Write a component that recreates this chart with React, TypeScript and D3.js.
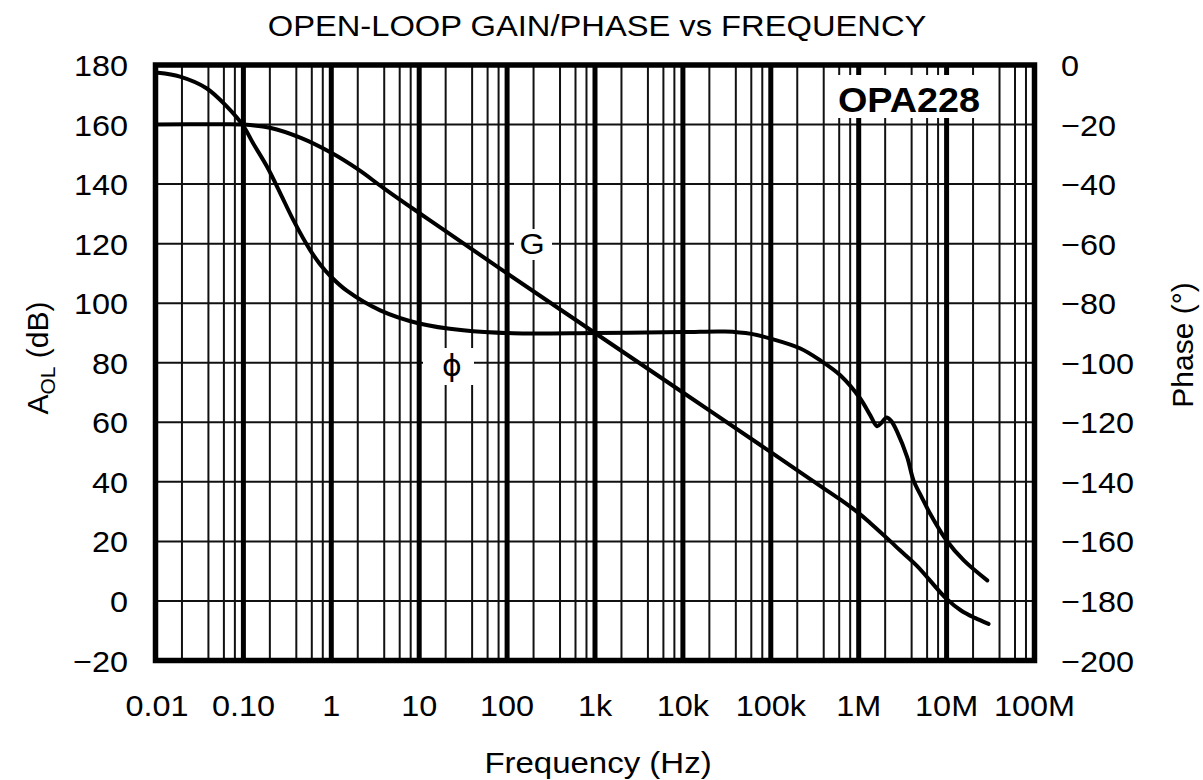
import React from "react";
import * as d3 from "d3";

// ---- data ----
const gainFreq = [0.01, 0.05, 0.1, 0.2, 0.45, 1, 2, 4, 10, 20, 100, 1e3, 1e4, 1e5, 3e5, 6.2e5, 1e6, 1.35e6, 2.3e6, 2.95e6, 4.6e6, 1e7, 1.46e7, 2.1e7, 3e7];
const gainDb = [160, 160.1, 160, 158.9, 155.5, 150.5, 145, 138.5, 130.3, 124.2, 110, 90, 70, 50, 40.3, 34, 29.5, 26.2, 20, 17, 11.8, 0.7, -3.2, -5.7, -7.7];

const phaseFreq = [0.0107, 0.019, 0.038, 0.065, 0.1, 0.129, 0.186, 0.263, 0.37, 0.57, 0.74, 1, 1.5, 3.6, 10, 31.6, 117, 1e3, 1e4, 3e4, 6e4, 1e5, 2.17e5, 3.66e5, 6.17e5, 1.04e6, 1.35e6, 1.62e6, 1.85e6, 2.07e6, 2.34e6, 2.74e6, 3.56e6, 4.2e6, 5.2e6, 6.5e6, 1e7, 1.57e7, 2.9e7];
const phaseDeg = [-2.6, -3.9, -7.8, -14, -20.5, -26.3, -34.2, -43.1, -52.1, -62, -66.8, -71.2, -75.8, -82.4, -86.8, -89.1, -90.1, -90, -89.7, -89.5, -90.3, -91.9, -95.2, -99.2, -104.2, -112, -117.6, -121.3, -119.9, -118.4, -119.5, -123.2, -131.7, -139.5, -145.1, -150.7, -159.7, -166.4, -173.1];

const xTickValues = [0.01, 0.1, 1, 10, 100, 1e3, 1e4, 1e5, 1e6, 1e7, 1e8];
const xTickLabels = ["0.01", "0.10", "1", "10", "100", "1k", "10k", "100k", "1M", "10M", "100M"];
const minorMultipliers = [2, 4, 6, 8];
const yLeftTicks = [-20, 0, 20, 40, 60, 80, 100, 120, 140, 160, 180];
const yRightTicks = [-200, -180, -160, -140, -120, -100, -80, -60, -40, -20, 0];

const TITLE = "OPEN-LOOP GAIN/PHASE vs FREQUENCY";
const XLABEL = "Frequency (Hz)";
const PART = "OPA228";

const W = 1203, H = 780;
const L = 155.5, R = 1034.5, T = 65, B = 660.5;
const SX = 1.08;
const FONT = "'Liberation Sans', Arial, Helvetica, sans-serif";

const x = d3.scaleLog().domain([0.01, 1e8]).range([L, R]);
const yL = d3.scaleLinear().domain([-20, 180]).range([B, T]);
const yR = d3.scaleLinear().domain([-200, 0]).range([B, T]);

function Txt({ x, y, children, anchor = "middle", size = 30, weight = "normal", sx = SX }: any) {
  return (
    <text transform={`translate(${x},${y}) scale(${sx},1)`} textAnchor={anchor} fontSize={size} fontWeight={weight} fontFamily={FONT} fill="#000">
      {children}
    </text>
  );
}

export default function App() {
  const minor: number[] = [];
  for (let d = -2; d <= 7; d++) for (const m of minorMultipliers) minor.push(m * Math.pow(10, d));
  const major = xTickValues.slice(1, -1);

  const curve = d3.curveCatmullRom.alpha(0.5);
  const gainLine = d3.line<number>().x((_, i) => x(gainFreq[i])).y((v) => yL(v)).curve(curve);
  const phaseLine = d3.line<number>().x((_, i) => x(phaseFreq[i])).y((v) => yR(v)).curve(curve);

  return (
    <svg width={W} height={H} style={{ position: "absolute", left: 0, top: 0, background: "#fff" }}>
      <rect width={W} height={H} fill="#fff" />
      {minor.map((f, i) => (
        <line key={"m" + i} x1={x(f)} x2={x(f)} y1={T} y2={B} stroke="#111" strokeWidth={2} />
      ))}
      {yLeftTicks.slice(1, -1).map((v) => (
        <line key={"h" + v} x1={L} x2={R} y1={yL(v)} y2={yL(v)} stroke="#111" strokeWidth={2} />
      ))}
      {major.map((f, i) => (
        <line key={"M" + i} x1={x(f)} x2={x(f)} y1={T} y2={B} stroke="#000" strokeWidth={5} />
      ))}
      <rect x={514} y={229} width={38} height={31} fill="#fff" />
      <rect x={423} y={348} width={51} height={37} fill="#fff" />
      <rect x={831} y={75} width={154} height={43} fill="#fff" />
      <rect x={L} y={T} width={R - L} height={B - T} fill="none" stroke="#000" strokeWidth={5.5} />
      <path d={gainLine(gainDb) || ""} fill="none" stroke="#000" strokeWidth={4} strokeLinejoin="round" strokeLinecap="round" />
      <path d={phaseLine(phaseDeg) || ""} fill="none" stroke="#000" strokeWidth={4} strokeLinejoin="round" strokeLinecap="round" />
      <Txt x={532} y={254}>G</Txt>
      <text x={452} y={376} textAnchor="middle" fontSize={30} fontFamily="'DejaVu Sans', sans-serif">ϕ</text>
      <Txt x={909} y={112} size={35} weight="bold">{PART}</Txt>
      <Txt x={597} y={36} sx={1.09}>{TITLE}</Txt>
      {yLeftTicks.map((v) => (
        <Txt key={"yl" + v} x={128} y={yL(v) + 11} anchor="end">{v < 0 ? "\u2212" + Math.abs(v) : String(v)}</Txt>
      ))}
      {yRightTicks.map((v) => (
        <Txt key={"yr" + v} x={1061} y={yR(v) + 11} anchor="start">{v < 0 ? "\u2212" + Math.abs(v) : String(v)}</Txt>
      ))}
      {xTickValues.map((f, i) => (
        <Txt key={"xt" + i} x={x(f) + (i === 0 ? 1.5 : 0)} y={716}>{xTickLabels[i]}</Txt>
      ))}
      <Txt x={598} y={773} sx={1.1}>{XLABEL}</Txt>
      <text transform="translate(48,358) rotate(-90)" textAnchor="middle" fontSize={30} fontFamily={FONT} fill="#000">
        A<tspan fontSize={21} dy={7}>OL</tspan>
        <tspan dy={-7}> (dB)</tspan>
      </text>
      <text transform="translate(1193,345) rotate(-90)" textAnchor="middle" fontSize={30} fontFamily={FONT} fill="#000">
        Phase (°)
      </text>
    </svg>
  );
}
